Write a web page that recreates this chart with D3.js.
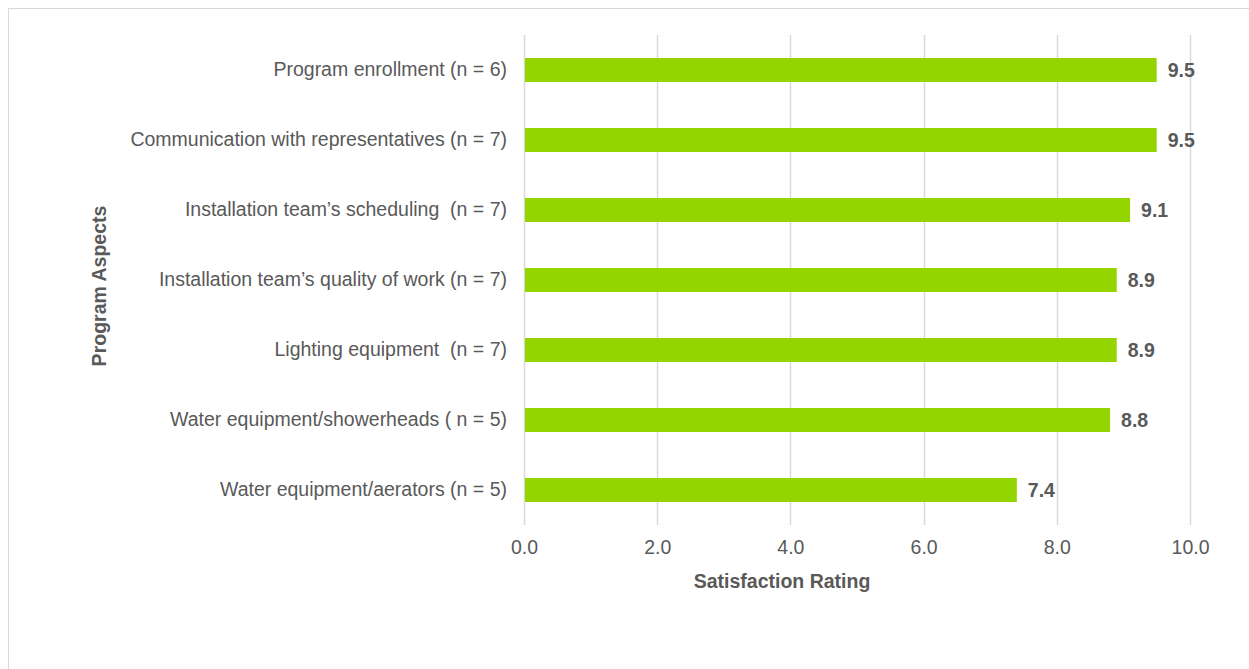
<!DOCTYPE html>
<html>
<head>
<meta charset="utf-8">
<script src="https://cdn.jsdelivr.net/npm/d3@7"></script>
<style>
  html, body { margin: 0; padding: 0; background: #fff; }
  svg { display: block; }
  text { font-family: "Liberation Sans", Arial, sans-serif; white-space: pre; }
</style>
</head>
<body>
<svg id="chart" width="1249" height="669"></svg>
<script>
// Satisfaction ratings by program aspect
const categories = [
  "Program enrollment (n = 6)",
  "Communication with representatives (n = 7)",
  "Installation team\u2019s scheduling  (n = 7)",
  "Installation team\u2019s quality of work (n = 7)",
  "Lighting equipment  (n = 7)",
  "Water equipment/showerheads ( n = 5)",
  "Water equipment/aerators (n = 5)"
];
const ratings = [9.5, 9.5, 9.1, 8.9, 8.9, 8.8, 7.4];
const xTicks = [0, 2, 4, 6, 8, 10];
const xTitle = "Satisfaction Rating";
const yTitle = "Program Aspects";

const svg = d3.select("#chart");
const textColor = "#595959";
const barColor = "#94D500";
const gridColor = "#D9D9D9";
const fs = 19.5;

// outer frame
svg.append("rect")
  .attr("x", 8.5).attr("y", 8.5)
  .attr("width", 1260).attr("height", 680)
  .attr("fill", "none").attr("stroke", "#D9D9D9").attr("stroke-width", 1);

const plot = { left: 524, right: 1190, top: 35, bottom: 525 };

const x = d3.scaleLinear().domain([0, 10]).range([plot.left, plot.right]);
const y = d3.scaleBand().domain(categories).range([plot.top, plot.bottom]).paddingInner(0.657).paddingOuter(0.3285);

// vertical gridlines
svg.append("g").selectAll("line").data(xTicks).join("line")
  .attr("x1", d => Math.round(x(d)) + 0.5).attr("x2", d => Math.round(x(d)) + 0.5)
  .attr("y1", plot.top).attr("y2", plot.bottom)
  .attr("stroke", gridColor).attr("stroke-width", 1.5);

// bars
svg.append("g").selectAll("rect").data(ratings).join("rect")
  .attr("x", x(0) + 1)
  .attr("y", (d, i) => y(categories[i]))
  .attr("width", d => x(d) - x(0) - 1)
  .attr("height", y.bandwidth())
  .attr("fill", barColor);

// value labels
svg.append("g").selectAll("text").data(ratings).join("text")
  .attr("x", d => x(d) + 11)
  .attr("y", (d, i) => y(categories[i]) + y.bandwidth() / 2)
  .attr("dy", "0.36em")
  .attr("fill", textColor)
  .attr("font-size", fs).attr("font-weight", "bold")
  .text(d => d.toFixed(1));

// x axis tick labels
const xAxis = d3.axisBottom(x).tickValues(xTicks).tickFormat(d3.format(".1f")).tickSize(0).tickPadding(15);
const gx = svg.append("g").attr("transform", `translate(0,${plot.bottom})`).call(xAxis);
gx.select(".domain").remove();
gx.selectAll("text").attr("fill", textColor).attr("font-size", fs)
  .attr("font-family", "'Liberation Sans', Arial, sans-serif");

// y axis category labels
const yAxis = d3.axisLeft(y).tickSize(0).tickPadding(17);
const gy = svg.append("g").attr("transform", `translate(${plot.left},0)`).call(yAxis);
gy.select(".domain").remove();
gy.selectAll("text").attr("fill", textColor).attr("font-size", fs)
  .attr("font-family", "'Liberation Sans', Arial, sans-serif");

// axis titles
svg.append("text")
  .attr("x", 782).attr("y", 588)
  .attr("text-anchor", "middle")
  .attr("fill", textColor).attr("font-size", fs).attr("font-weight", "bold")
  .text(xTitle);

svg.append("text")
  .attr("transform", `translate(106,286) rotate(-90)`)
  .attr("text-anchor", "middle")
  .attr("fill", textColor).attr("font-size", fs).attr("font-weight", "bold")
  .text(yTitle);
</script>
</body>
</html>
